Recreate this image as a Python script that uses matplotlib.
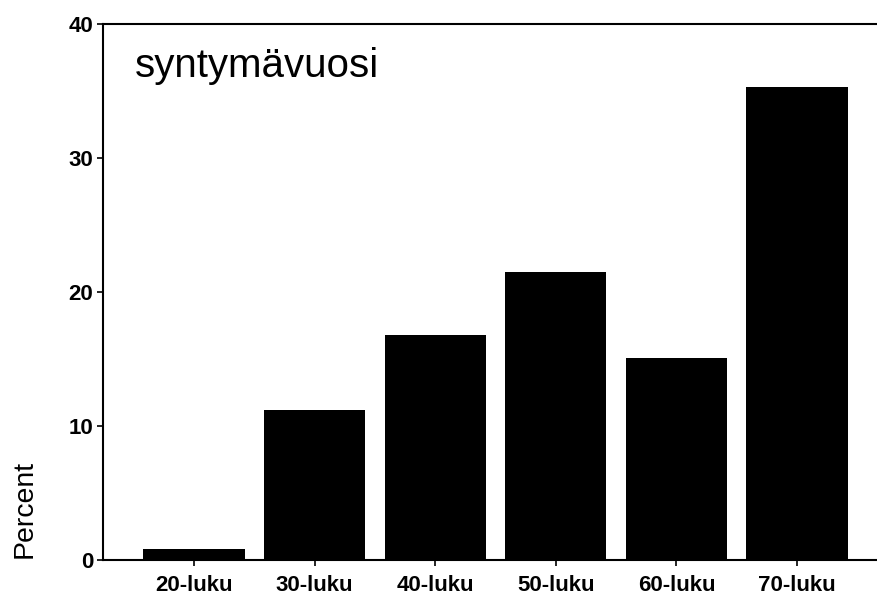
import matplotlib
matplotlib.use("Agg")
import matplotlib.pyplot as plt

categories = ["20-luku", "30-luku", "40-luku", "50-luku", "60-luku", "70-luku"]
percents = [0.8, 11.2, 16.8, 21.5, 15.1, 35.3]
yticks = [0, 10, 20, 30, 40]
title = "syntymävuosi"
ylabel = "Percent"

plt.rcParams['font.family'] = ['Liberation Sans', 'DejaVu Sans']

fig = plt.figure(figsize=(8.77, 5.95), dpi=100)
ax = fig.add_axes([103/877, 35/595, 1 - 103/877, (560-24)/595])

x = list(range(len(categories)))
ax.bar(x, percents, width=0.84, color="black")

ax.set_xlim(-0.755, 5.663)
ax.set_ylim(0, 40)
ax.set_yticks(yticks)
ax.set_yticklabels([str(t) for t in yticks], fontsize=16, fontweight="bold")
ax.set_xticks(x)
ax.set_xticklabels(categories, fontsize=16, fontweight="bold")
ax.tick_params(axis="both", direction="out", length=4, width=1.2)
ax.tick_params(axis="y", pad=3)
ax.tick_params(axis="x", pad=7)

ax.spines["right"].set_visible(False)
for s in ["left", "top", "bottom"]:
    ax.spines[s].set_linewidth(1.5)

fig.text(135/877, 1 - 77/595, title, fontsize=29,
         ha="left", va="baseline")
fig.text(25/877, 1 - 509/595, ylabel, rotation=90, fontsize=20.5,
         ha="center", va="center")

fig.savefig("out.png", dpi=100)
